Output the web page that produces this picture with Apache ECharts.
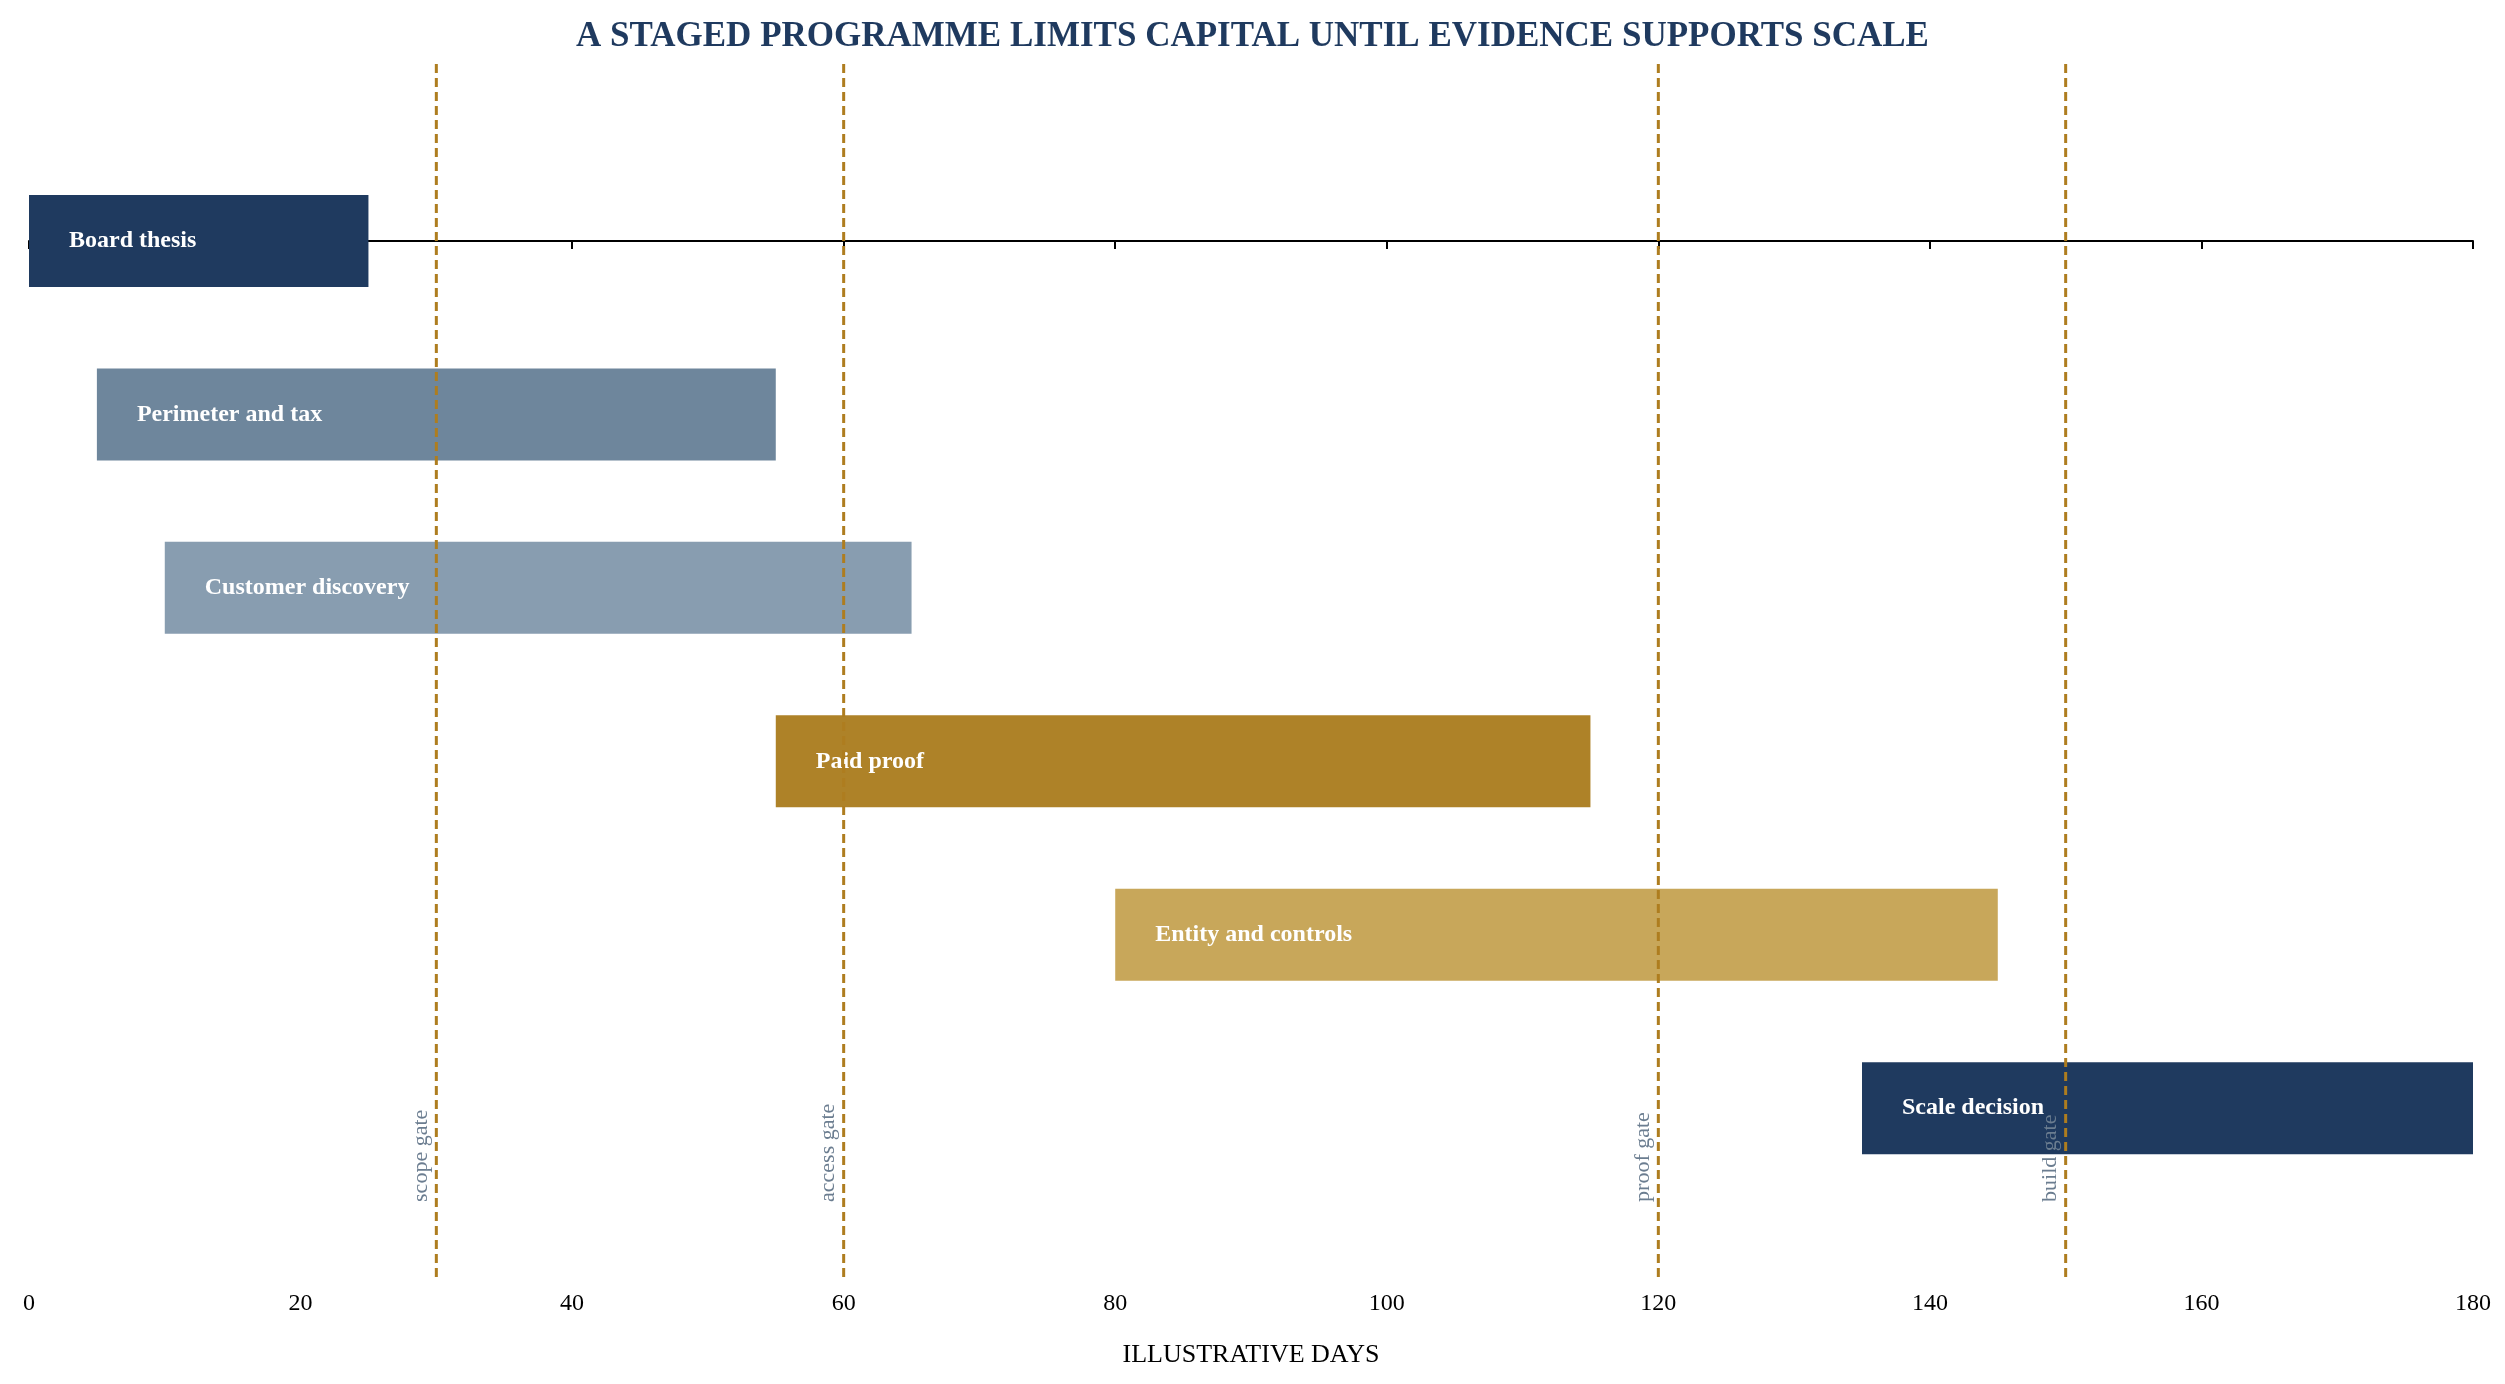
<!DOCTYPE html>
<html><head><meta charset="utf-8">
<script src="https://cdn.jsdelivr.net/npm/echarts@6/dist/echarts.min.js"></script>
<style>html,body{margin:0;padding:0;background:#fff}#chart{width:2505px;height:1384px}</style>
</head><body><div id="chart"></div>
<script>
var tasks = ['Board thesis', 'Perimeter and tax', 'Customer discovery', 'Paid proof', 'Entity and controls', 'Scale decision'];
var starts = [0, 5, 10, 55, 80, 135];
var ends = [25, 55, 65, 115, 145, 180];
var colors = ['#1f3a5f', '#6e869c', '#889db0', '#ae8228', '#c8a75a', '#1f3a5f'];
var gateDays = [30, 60, 120, 150];
var gateNames = ['scope gate', 'access gate', 'proof gate', 'build gate'];
var xTicks = [0, 20, 40, 60, 80, 100, 120, 140, 160, 180];

var font = '"Liberation Serif", "DejaVu Serif", serif';
var chart = echarts.init(document.getElementById('chart'));

var barData = tasks.map(function (t, i) { return [starts[i], ends[i], i, t]; });
var gateData = gateDays.map(function (d, i) { return [d, gateNames[i]]; });

chart.setOption({
    animation: false,
    title: {
        text: 'A STAGED PROGRAMME LIMITS CAPITAL UNTIL EVIDENCE SUPPORTS SCALE',
        left: 'center', top: 14,
        textStyle: { fontFamily: font, fontSize: 35, fontWeight: 'bold', color: '#1f3a5f' }
    },
    grid: { left: 29, right: 32, top: 64, bottom: 104 },
    xAxis: {
        type: 'value', min: 0, max: 180, interval: 20,
        name: 'ILLUSTRATIVE DAYS', nameLocation: 'middle', nameGap: 62,
        nameTextStyle: { fontFamily: font, fontSize: 26, color: '#000' },
        axisLine: { show: true, lineStyle: { color: '#000', width: 2 } },
        axisTick: { show: true, length: 8, lineStyle: { color: '#000', width: 2 } },
        axisLabel: { fontFamily: font, fontSize: 24, color: '#000', margin: 12,
            formatter: function (v) { return xTicks.indexOf(v) >= 0 ? v : ''; } },
        splitLine: { show: false }
    },
    yAxis: { type: 'value', min: -1.02, max: 5.99, inverse: true, show: false },
    series: [{
        type: 'custom',
        data: barData,
        encode: { x: [0, 1], y: 2 },
        renderItem: function (params, api) {
            var i = api.value(2);
            var p0 = api.coord([api.value(0), i]);
            var p1 = api.coord([api.value(1), i]);
            var h = 92;
            return {
                type: 'group',
                children: [{
                    type: 'rect',
                    shape: { x: p0[0], y: p0[1] - h / 2, width: p1[0] - p0[0], height: h },
                    style: { fill: colors[i] }
                }, {
                    type: 'text',
                    x: p0[0] + 40, y: p0[1],
                    style: { text: tasks[i], fill: '#fff', font: 'bold 24px ' + font,
                        textAlign: 'left', textVerticalAlign: 'middle' }
                }]
            };
        }
    }, {
        type: 'custom',
        data: gateData,
        encode: { x: 0 },
        z: 5,
        renderItem: function (params, api) {
            var d = api.value(0);
            var top = api.coord([d, -1.02]);
            var bot = api.coord([d, 5.99]);
            var lab = api.coord([d, 5.54]);
            return {
                type: 'group',
                children: [{
                    type: 'line',
                    shape: { x1: top[0], y1: top[1], x2: bot[0], y2: bot[1] },
                    style: { stroke: '#ae7d1f', lineWidth: 3, lineDash: [9, 5] }
                }, {
                    type: 'text',
                    x: lab[0] - 4, y: lab[1],
                    rotation: Math.PI / 2,
                    style: { text: gateNames[params.dataIndex], fill: '#6b7d90', font: '22px ' + font,
                        textAlign: 'left', textVerticalAlign: 'bottom' }
                }]
            };
        }
    }]
});
</script>
</body></html>
